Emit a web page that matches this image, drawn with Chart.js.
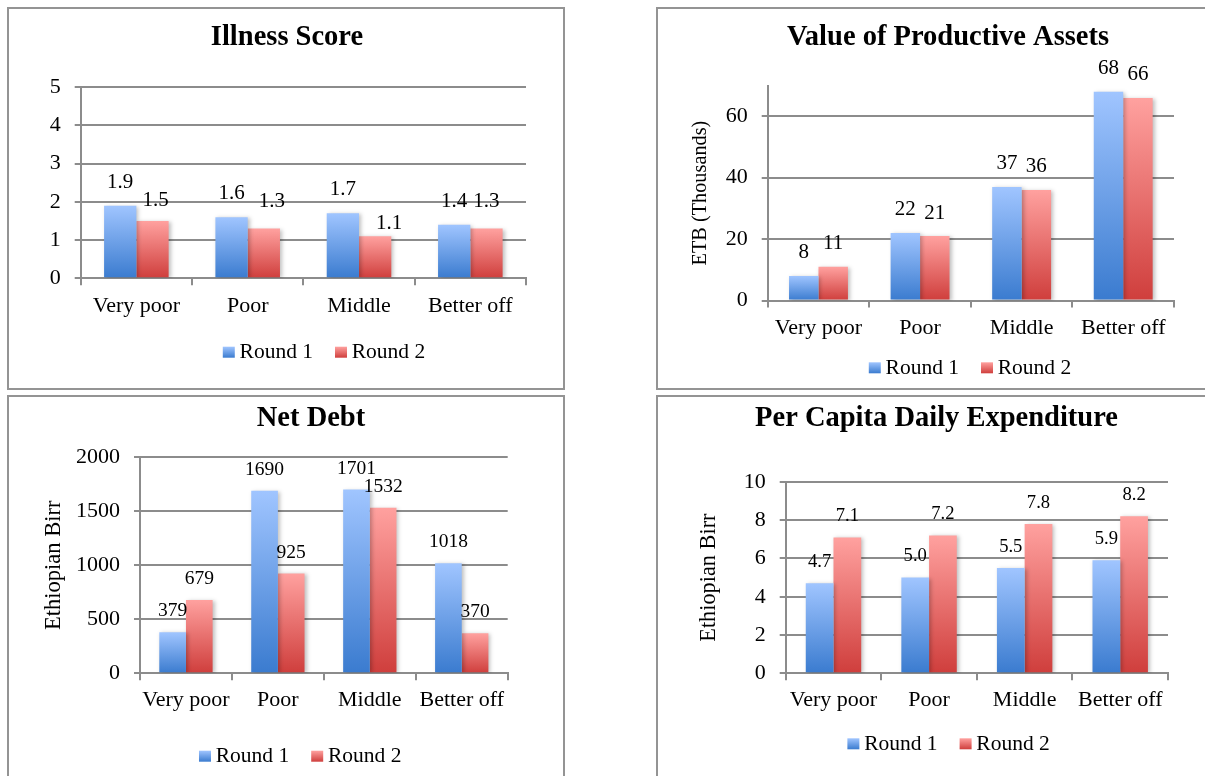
<!DOCTYPE html>
<html>
<head>
<meta charset="utf-8">
<script src="https://cdn.jsdelivr.net/npm/chart.js@4.4.1/dist/chart.umd.min.js"></script>
<style>
  html, body { margin: 0; padding: 0; background: #fff; width: 1205px; height: 776px; overflow: hidden; }
  body { position: relative; }
  .panel { position: absolute; width: 554px; height: 379px; border: 2px solid #949494; }
  .panel canvas { position: absolute; left: 0; top: 0; }
</style>
</head>
<body>
<div class="panel" style="left:7px;top:7px"><canvas id="c1" width="554" height="400"></canvas></div>
<div class="panel" style="left:656px;top:7px"><canvas id="c2" width="554" height="400"></canvas></div>
<div class="panel" style="left:7px;top:395px"><canvas id="c3" width="554" height="400"></canvas></div>
<div class="panel" style="left:656px;top:395px"><canvas id="c4" width="554" height="400"></canvas></div>
<script>
// Wealth groups and survey rounds
const categories = ['Very poor', 'Poor', 'Middle', 'Better off'];
const seriesNames = ['Round 1', 'Round 2'];

// Illness score
const illnessRound1 = [1.9, 1.6, 1.7, 1.4];
const illnessRound2 = [1.5, 1.3, 1.1, 1.3];
const illnessTicks = [0, 1, 2, 3, 4, 5];

// Value of productive assets, ETB thousands
const assetsRound1 = [8, 22, 37, 68];
const assetsRound2 = [11, 21, 36, 66];
const assetsTicks = [0, 20, 40, 60];

// Net debt, Ethiopian Birr
const debtRound1 = [379, 1690, 1701, 1018];
const debtRound2 = [679, 925, 1532, 370];
const debtTicks = [0, 500, 1000, 1500, 2000];

// Per capita daily expenditure, Ethiopian Birr
const spendRound1 = [4.7, 5.0, 5.5, 5.9];
const spendRound2 = [7.1, 7.2, 7.8, 8.2];
const spendTicks = [0, 2, 4, 6, 8, 10];

const FONT = "'Liberation Serif', 'Times New Roman', serif";
const GRID = '#8c8c8c';
const BLUE = ['#a0c5ff', '#3a7bcf'];   // top, bottom of the gradient
const RED = ['#ffa19f', '#cf3e3c'];
const LEGEND_FONT = 21.5;
const LEGEND_PAD = 22;

// vertical gradient running over each bar from its top to the baseline
function barFill(colors) {
  return (ctx) => {
    const chart = ctx.chart;
    const y = chart.scales && chart.scales.y;
    if (!y || ctx.type !== 'data' || ctx.raw == null) return colors[1];
    const top = y.getPixelForValue(ctx.raw);
    const base = y.getPixelForValue(0);
    const g = chart.ctx.createLinearGradient(0, top, 0, base);
    g.addColorStop(0, colors[0]);
    g.addColorStop(1, colors[1]);
    return g;
  };
}

// soft drop shadow behind the bars
const barShadow = {
  id: 'barShadow',
  beforeDatasetDraw(chart) {
    const c = chart.ctx;
    c.save();
    c.shadowColor = 'rgba(0,0,0,0.25)';
    c.shadowBlur = 4;
    c.shadowOffsetX = 2;
    c.shadowOffsetY = 1;
  },
  afterDatasetDraw(chart) { chart.ctx.restore(); }
};

// value written above every bar
function valueLabels(spec) {
  return {
    id: 'valueLabels',
    afterDatasetsDraw(chart) {
      const c = chart.ctx;
      c.save();
      c.font = spec.labelSize + 'px ' + FONT;
      c.fillStyle = '#000';
      c.textAlign = 'center';
      c.textBaseline = 'middle';
      chart.data.datasets.forEach((ds, di) => {
        chart.getDatasetMeta(di).data.forEach((bar, i) => {
          const n = (spec.nudge && spec.nudge[di] && spec.nudge[di][i]) || [0, 0];
          c.fillText(ds.data[i].toFixed(spec.decimals), bar.x + n[0], bar.y - spec.labelOffset + n[1]);
        });
      });
      c.restore();
    }
  };
}

// title / legend placement and gradient legend swatches
function blockPlacement(spec) {
  return {
    id: 'blockPlacement',
    afterLayout(chart) {
      const t = chart.titleBlock;
      if (t) {
        const s = spec.titleCenter - (t.left + t.right) / 2;
        t.left += s;
        t.right += s;
      }
      const lg = chart.legend;
      const sx = spec.legendCenter - (lg.left + lg.right) / 2;
      lg.left += sx;
      lg.right += sx;
      const sy = (spec.legendY - LEGEND_PAD - LEGEND_FONT / 2) - lg.top;
      lg.top += sy;
      lg.bottom += sy;
    },
    afterDraw(chart) {
      const lg = chart.legend;
      const c = chart.ctx;
      [BLUE, RED].forEach((col, i) => {
        const hb = lg.legendHitBoxes[i];
        if (!hb) return;
        const cy = hb.top + hb.height / 2 - 0.5;
        const g = c.createLinearGradient(0, cy - 5.5, 0, cy + 5.5);
        g.addColorStop(0, col[0]);
        g.addColorStop(1, col[1]);
        c.fillStyle = g;
        c.fillRect(hb.left, cy - 5.5, 12, 11);
      });
    }
  };
}

function drawPanel(spec) {
  new Chart(document.getElementById(spec.canvas), {
    type: 'bar',
    data: {
      labels: categories,
      datasets: [
        { label: seriesNames[0], data: spec.r1, backgroundColor: barFill(BLUE), borderWidth: 0 },
        { label: seriesNames[1], data: spec.r2, backgroundColor: barFill(RED), borderWidth: 0 }
      ]
    },
    options: {
      responsive: false,
      devicePixelRatio: 1,
      animation: false,
      events: [],
      datasets: { bar: { categoryPercentage: 0.58, barPercentage: 1.0 } },
      layout: { padding: spec.pad },
      plugins: {
        tooltip: { enabled: false },
        title: {
          display: true,
          text: spec.title,
          color: '#000',
          font: { family: FONT, size: 28.5, weight: 'bold', lineHeight: 1.2 },
          padding: spec.titlePad
        },
        legend: {
          position: 'bottom',
          labels: {
            color: '#000',
            font: { family: FONT, size: LEGEND_FONT },
            boxWidth: 6,
            boxHeight: 12,
            padding: LEGEND_PAD,
            generateLabels: (chart) => chart.data.datasets.map((ds, i) => ({
              text: ds.label,
              fillStyle: 'rgba(0,0,0,0)',
              strokeStyle: 'rgba(0,0,0,0)',
              lineWidth: 0,
              hidden: false,
              datasetIndex: i,
              fontColor: '#000'
            }))
          }
        }
      },
      scales: {
        x: {
          afterFit: (axis) => { axis.height = spec.xH; },
          ticks: { color: '#000', font: { family: FONT, size: 22 }, padding: spec.xPad, maxRotation: 0, autoSkip: false },
          grid: { display: true, drawOnChartArea: false, drawTicks: true, tickLength: 7, color: GRID, lineWidth: 2 },
          border: { display: true, color: GRID, width: 2 }
        },
        y: {
          min: 0,
          max: spec.max,
          afterBuildTicks: (axis) => { axis.ticks = spec.ticks.map(v => ({ value: v })); },
          afterFit: (axis) => { axis.width = spec.yW; },
          ticks: { color: '#000', font: { family: FONT, size: 22 }, padding: 14, callback: (v) => String(v) },
          grid: { color: GRID, lineWidth: 2, drawTicks: true, tickLength: 6 },
          border: { display: true, color: GRID, width: 2 },
          title: {
            display: !!spec.yTitle,
            text: spec.yTitle,
            color: '#000',
            font: { family: FONT, size: spec.yTitleSize, lineHeight: 1.2 },
            padding: { top: spec.yTitlePad, bottom: 0 }
          }
        }
      }
    },
    plugins: [barShadow, valueLabels(spec), blockPlacement(spec)]
  });
}

drawPanel({
  canvas: 'c1', title: 'Illness Score', r1: illnessRound1, r2: illnessRound2,
  ticks: illnessTicks, max: 5, decimals: 1,
  yTitle: '', yTitleSize: 20, yTitlePad: 0,
  pad: { left: 0, right: 37, top: 0, bottom: 29.2 }, yW: 71.7, xH: 48,
  titlePad: { top: 11.2, bottom: 32.8 }, xPad: 7.3,
  titleCenter: 278, legendCenter: 315, legendY: 343.7,
  labelSize: 21, labelOffset: 23.5,
  nudge: [[], [[3, 2.6], [8, -3.3], [14, 10.3], [0, -3.3]]]
});

drawPanel({
  canvas: 'c2', title: 'Value of Productive Assets', r1: assetsRound1, r2: assetsRound2,
  ticks: assetsTicks, max: 70, decimals: 0,
  yTitle: 'ETB (Thousands)', yTitleSize: 20.3, yTitlePad: 30.2,
  pad: { left: 0, right: 38, top: 0, bottom: 7 }, yW: 109.7, xH: 48,
  titlePad: { top: 11.2, bottom: 31.2 }, xPad: 7.3,
  titleCenter: 290, legendCenter: 312, legendY: 359.3,
  labelSize: 21, labelOffset: 23
});

drawPanel({
  canvas: 'c3', title: 'Net Debt', r1: debtRound1, r2: debtRound2,
  ticks: debtTicks, max: 2000, decimals: 0,
  yTitle: 'Ethiopian Birr', yTitleSize: 22.5, yTitlePad: 32,
  pad: { left: 0, right: 55.3, top: 0, bottom: 22.2 }, yW: 131, xH: 48,
  titlePad: { top: 4.5, bottom: 21.6 }, xPad: 6.3,
  titleCenter: 302, legendCenter: 291.2, legendY: 359.7,
  labelSize: 19.5, labelOffset: 21
});

drawPanel({
  canvas: 'c4', title: 'Per Capita Daily Expenditure', r1: spendRound1, r2: spendRound2,
  ticks: spendTicks, max: 10, decimals: 1,
  yTitle: 'Ethiopian Birr', yTitleSize: 22.3, yTitlePad: 37.9,
  pad: { left: 0, right: 44, top: 0, bottom: 22.2 }, yW: 127.7, xH: 48,
  titlePad: { top: 4.5, bottom: 46.2 }, xPad: 6.3,
  titleCenter: 278.5, legendCenter: 290.6, legendY: 347.3,
  labelSize: 18.6, labelOffset: 21.3
});
</script>
</body>
</html>
